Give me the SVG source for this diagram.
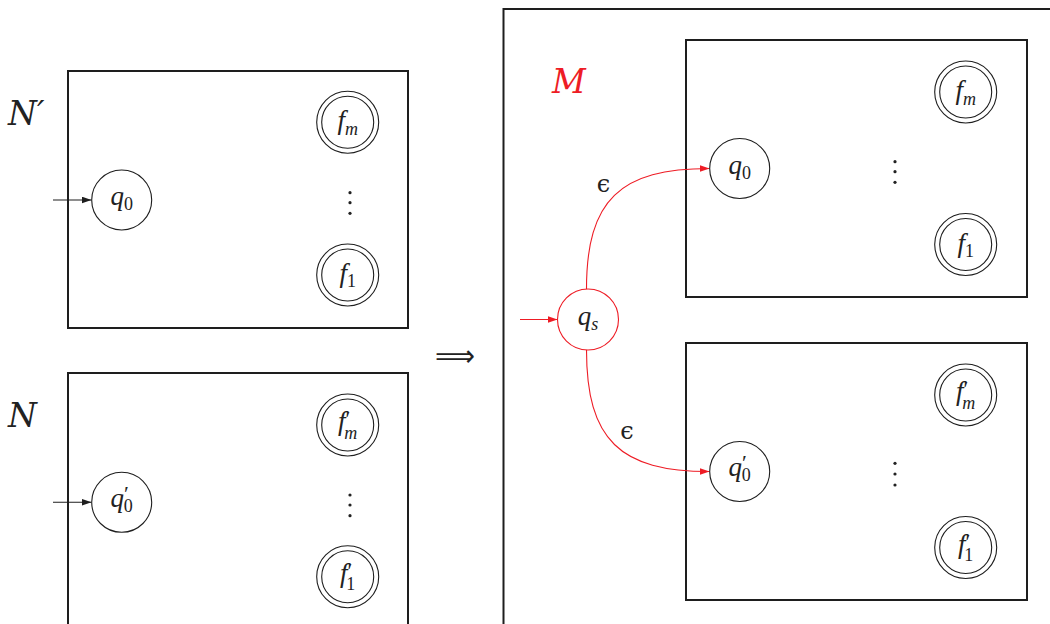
<svg xmlns="http://www.w3.org/2000/svg" width="1050" height="624" viewBox="0 0 1050 624">
<style>
.box{fill:none;stroke:#1e1e1e;stroke-width:2}
.st{fill:#fff;stroke:#1e1e1e;stroke-width:1.1}
.red{fill:#fff;stroke:#ee1c25;stroke-width:1.1}
.lbl{font-style:italic;font-size:27px;fill:#222;text-anchor:middle}
.sub{font-style:normal;font-size:18px}
.subi{font-size:18px}
.pr{font-style:normal;font-size:22px}
.big{font-style:italic;font-size:33px;fill:#222}
.eps{font-size:24px;fill:#222;text-anchor:middle}
.dot{fill:#222}
.edge{fill:none;stroke:#1e1e1e;stroke-width:1.1}
.redge{fill:none;stroke:#ee1c25;stroke-width:1.1}
</style>
<defs>
<marker id="ab" markerUnits="userSpaceOnUse" markerWidth="11" markerHeight="8" refX="10" refY="3.5" orient="auto"><path d="M0,0 L10,3.5 L0,7 z" fill="#1e1e1e"/></marker>
<marker id="ar" markerUnits="userSpaceOnUse" markerWidth="11" markerHeight="8" refX="10" refY="3.5" orient="auto"><path d="M0,0 L10,3.5 L0,7 z" fill="#ee1c25"/></marker>
</defs>
<rect width="1050" height="624" fill="#fff"/>

<g id="frames">
<rect class="box" x="68" y="71" width="340" height="257"/>
<rect class="box" x="68" y="373" width="340" height="300"/>
<rect class="box" x="503.5" y="9" width="600" height="700"/>
<rect class="box" x="686" y="40" width="341" height="257"/>
<rect class="box" x="686" y="343" width="341" height="257"/>
</g>

<g id="labels" font-family="DejaVu Serif, serif">
<text class="big" x="8" y="125">N′</text>
<text class="big" x="8" y="427">N</text>
<text class="big" x="552" y="93" style="fill:#ee1c25">M</text>
<text x="435" y="366" font-family="DejaVu Sans, sans-serif" font-size="30" fill="#222" textLength="40" lengthAdjust="spacingAndGlyphs">⟹</text>
</g>

<g id="connectors">
<line class="edge" x1="53" y1="200" x2="91.5" y2="200" marker-end="url(#ab)"/>
<line class="edge" x1="53" y1="502.3" x2="91.5" y2="502.3" marker-end="url(#ab)"/>
<line class="redge" x1="520" y1="319.5" x2="557.5" y2="319.5" marker-end="url(#ar)"/>
<path class="redge" d="M586.5,289 C586.5,200 620,168.5 709.5,168.5" marker-end="url(#ar)"/>
<path class="redge" d="M586.5,350 C586.5,440 620,471.5 709.5,471.5" marker-end="url(#ar)"/>
<text class="eps" x="603.5" y="192" font-family="DejaVu Serif, serif">ϵ</text>
<text class="eps" x="627" y="439" font-family="DejaVu Serif, serif">ϵ</text>
</g>

<g font-family="Liberation Serif, serif">
<g id="N1-q0"><circle class="st" cx="121.7" cy="200" r="30"/><text class="lbl" x="121.7" y="205">q<tspan class="sub" dy="5">0</tspan></text></g>
<g id="N1-fm"><circle class="st" cx="347.7" cy="122.3" r="31"/><circle class="st" cx="347.7" cy="122.3" r="26"/><text class="lbl" x="347.7" y="129">f<tspan class="subi" dy="6">m</tspan></text></g>
<g id="N1-f1"><circle class="st" cx="347.7" cy="275" r="31"/><circle class="st" cx="347.7" cy="275" r="26"/><text class="lbl" x="347.7" y="282">f<tspan class="sub" dy="5">1</tspan></text></g>
<g id="N1-dots"><circle class="dot" cx="350" cy="192.7" r="1.6"/><circle class="dot" cx="350" cy="202.7" r="1.6"/><circle class="dot" cx="350" cy="213.3" r="1.6"/></g>

<g id="N2-q0p"><circle class="st" cx="121.7" cy="502.3" r="30"/><text class="lbl" x="121.7" y="507">q<tspan class="pr" dy="-6">′</tspan><tspan class="sub" dx="-5" dy="11">0</tspan></text></g>
<g id="N2-fmp"><circle class="st" cx="347.7" cy="425" r="31"/><circle class="st" cx="347.7" cy="425" r="26"/><text class="lbl" x="347.7" y="430">f<tspan class="pr" dy="-4">′</tspan><tspan class="subi" dx="-6" dy="13">m</tspan></text></g>
<g id="N2-f1p"><circle class="st" cx="347.7" cy="576.7" r="31"/><circle class="st" cx="347.7" cy="576.7" r="26"/><text class="lbl" x="347.7" y="582">f<tspan class="pr" dy="-4">′</tspan><tspan class="sub" dx="-6" dy="12">1</tspan></text></g>
<g id="N2-dots"><circle class="dot" cx="350" cy="495" r="1.6"/><circle class="dot" cx="350" cy="505" r="1.6"/><circle class="dot" cx="350" cy="515.7" r="1.6"/></g>

<g id="M-qs"><circle class="red" cx="588" cy="319.5" r="30.5"/><text class="lbl" x="588" y="324.5">q<tspan class="subi" dy="5">s</tspan></text></g>

<g id="M1-q0"><circle class="st" cx="739.7" cy="168.5" r="30"/><text class="lbl" x="739.7" y="173.5">q<tspan class="sub" dy="5">0</tspan></text></g>
<g id="M1-fm"><circle class="st" cx="965.7" cy="92" r="31"/><circle class="st" cx="965.7" cy="92" r="26"/><text class="lbl" x="965.7" y="98.7">f<tspan class="subi" dy="6">m</tspan></text></g>
<g id="M1-f1"><circle class="st" cx="965.7" cy="244.5" r="31"/><circle class="st" cx="965.7" cy="244.5" r="26"/><text class="lbl" x="965.7" y="251.5">f<tspan class="sub" dy="5">1</tspan></text></g>
<g id="M1-dots"><circle class="dot" cx="895" cy="161.7" r="1.6"/><circle class="dot" cx="895" cy="171.7" r="1.6"/><circle class="dot" cx="895" cy="182.3" r="1.6"/></g>

<g id="M2-q0p"><circle class="st" cx="739.7" cy="471.5" r="30"/><text class="lbl" x="739.7" y="476.2">q<tspan class="pr" dy="-6">′</tspan><tspan class="sub" dx="-5" dy="11">0</tspan></text></g>
<g id="M2-fmp"><circle class="st" cx="965.7" cy="395" r="31"/><circle class="st" cx="965.7" cy="395" r="26"/><text class="lbl" x="965.7" y="400">f<tspan class="pr" dy="-4">′</tspan><tspan class="subi" dx="-6" dy="13">m</tspan></text></g>
<g id="M2-f1p"><circle class="st" cx="965.7" cy="547.5" r="31"/><circle class="st" cx="965.7" cy="547.5" r="26"/><text class="lbl" x="965.7" y="552.8">f<tspan class="pr" dy="-4">′</tspan><tspan class="sub" dx="-6" dy="12">1</tspan></text></g>
<g id="M2-dots"><circle class="dot" cx="895" cy="463.3" r="1.6"/><circle class="dot" cx="895" cy="474" r="1.6"/><circle class="dot" cx="895" cy="485" r="1.6"/></g>
</g>
</svg>
